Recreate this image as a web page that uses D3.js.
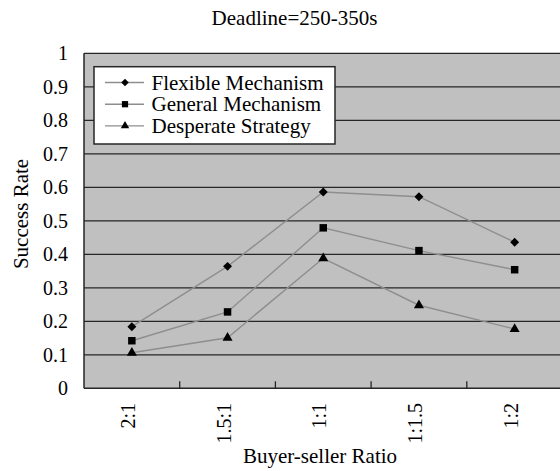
<!DOCTYPE html>
<html>
<head>
<meta charset="utf-8">
<script src="https://cdn.jsdelivr.net/npm/d3@7"></script>
<style>
  html, body { margin: 0; padding: 0; background: #fff; }
  svg { display: block; }
</style>
</head>
<body>
<svg id="chart" width="560" height="471"></svg>
<script>
const categories = ["2:1", "1.5:1", "1:1", "1:1.5", "1:2"];
const flexible = [0.184, 0.364, 0.586, 0.572, 0.436];
const general = [0.142, 0.228, 0.479, 0.411, 0.354];
const desperate = [0.106, 0.151, 0.388, 0.248, 0.177];
const seriesNames = ["Flexible Mechanism", "General Mechanism", "Desperate Strategy"];
const yTicks = [0, 0.1, 0.2, 0.3, 0.4, 0.5, 0.6, 0.7, 0.8, 0.9, 1];
const yTickLabels = ["0", "0.1", "0.2", "0.3", "0.4", "0.5", "0.6", "0.7", "0.8", "0.9", "1"];
const titleText = "Deadline=250-350s";
const xTitle = "Buyer-seller Ratio";
const yTitle = "Success Rate";

const FONT = "Liberation Serif";

const diamond = { draw(ctx, size) { const r = Math.sqrt(size / 2); ctx.moveTo(0, -r); ctx.lineTo(r, 0); ctx.lineTo(0, r); ctx.lineTo(-r, 0); ctx.closePath(); } };

const series = [
  { name: seriesNames[0], values: flexible, symbol: diamond, size: 40 },
  { name: seriesNames[1], values: general, symbol: d3.symbolSquare, size: 56 },
  { name: seriesNames[2], values: desperate, symbol: d3.symbolTriangle, size: 44 }
];

const svg = d3.select("#chart");
const plot = { left: 84, top: 53.3, right: 562.5, bottom: 388.3 };

const x = d3.scaleBand().domain(categories).range([plot.left, plot.right]).padding(0);
const y = d3.scaleLinear().domain([0, 1]).range([plot.bottom, plot.top]);

svg.append("rect")
  .attr("x", plot.left).attr("y", plot.top)
  .attr("width", plot.right - plot.left).attr("height", plot.bottom - plot.top)
  .attr("fill", "#c0c0c0");

svg.append("g").selectAll("line").data(yTicks.slice(1))
  .join("line")
  .attr("x1", plot.left).attr("x2", plot.right)
  .attr("y1", d => y(d)).attr("y2", d => y(d))
  .attr("stroke", "#262626").attr("stroke-width", 1.3);

svg.append("line").attr("x1", plot.left).attr("x2", plot.left)
  .attr("y1", plot.top).attr("y2", plot.bottom)
  .attr("stroke", "#262626").attr("stroke-width", 1.5);
svg.append("line").attr("x1", plot.left).attr("x2", plot.right)
  .attr("y1", plot.bottom).attr("y2", plot.bottom)
  .attr("stroke", "#262626").attr("stroke-width", 1.5);

svg.append("g").selectAll("line").data(categories.slice(1))
  .join("line")
  .attr("x1", d => x(d)).attr("x2", d => x(d))
  .attr("y1", plot.bottom).attr("y2", plot.bottom - 7)
  .attr("stroke", "#262626").attr("stroke-width", 1.3);

svg.append("g").selectAll("text").data(yTicks)
  .join("text")
  .style("font-family", FONT)
  .attr("x", 68).attr("y", d => y(d) + 7)
  .attr("text-anchor", "end")
  .attr("font-size", 20)
  .text((d, i) => yTickLabels[i]);

svg.append("g").selectAll("text").data(categories)
  .join("text")
  .style("font-family", FONT)
  .attr("transform", d => `translate(${x(d) + x.bandwidth() / 2 + 3},403) rotate(-90)`)
  .attr("text-anchor", "end")
  .attr("font-size", 20)
  .text(d => d);

const line = d3.line()
  .x((d, i) => x(categories[i]) + x.bandwidth() / 2)
  .y(d => y(d));

series.forEach(s => {
  svg.append("path")
    .attr("d", line(s.values))
    .attr("fill", "none")
    .attr("stroke", "#8e8e8e")
    .attr("stroke-width", 1.4);
});
series.forEach(s => {
  svg.append("g").selectAll("path").data(s.values)
    .join("path")
    .attr("transform", (d, i) => `translate(${x(categories[i]) + x.bandwidth() / 2},${y(d)})`)
    .attr("d", d3.symbol().type(s.symbol).size(s.size))
    .attr("fill", "#000");
});

const lg = svg.append("g");
lg.append("rect")
  .attr("x", 94).attr("y", 66.7).attr("width", 241).attr("height", 77.3)
  .attr("fill", "#fff").attr("stroke", "#262626").attr("stroke-width", 1.5);
series.forEach((s, i) => {
  const cy = 82.5 + i * 21.7;
  lg.append("line").attr("x1", 105).attr("x2", 144).attr("y1", cy).attr("y2", cy)
    .attr("stroke", "#8e8e8e").attr("stroke-width", 1.4);
  lg.append("path").attr("transform", `translate(125,${cy})`)
    .attr("d", d3.symbol().type(s.symbol).size(s.size * 0.7)).attr("fill", "#000");
  lg.append("text").style("font-family", FONT).attr("x", 151.5).attr("y", cy + 7)
    .attr("font-size", 21).text(s.name);
});

svg.append("text").style("font-family", FONT).attr("x", 294.5).attr("y", 25)
  .attr("text-anchor", "middle").attr("font-size", 21).text(titleText);
svg.append("text").style("font-family", FONT).attr("x", 320).attr("y", 463)
  .attr("text-anchor", "middle").attr("font-size", 21).text(xTitle);
svg.append("text").style("font-family", FONT).attr("transform", "translate(28,214) rotate(-90)")
  .attr("text-anchor", "middle").attr("font-size", 21).text(yTitle);
</script>
</body>
</html>
